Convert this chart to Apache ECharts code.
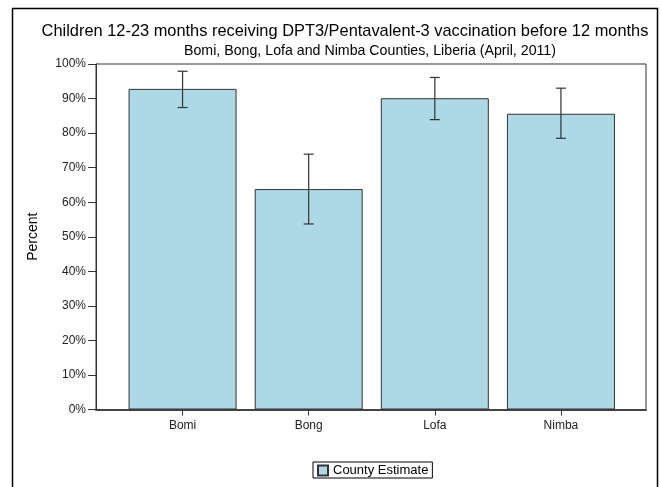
<!DOCTYPE html>
<html>
<head>
<meta charset="utf-8">
<script src="https://cdn.jsdelivr.net/npm/echarts@6/dist/echarts.min.js"></script>
<style>
  html, body { margin: 0; padding: 0; background: #fff; }
  #chart { width: 661px; height: 487px; }
</style>
</head>
<body>
<div id="chart"></div>
<script>
// County estimates with 95% confidence limits (percent)
const counties = ['Bomi', 'Bong', 'Lofa', 'Nimba'];
const estimates = [92.8, 63.8, 90.1, 85.6];
const lowerCI = [87.4, 53.7, 83.9, 78.5];
const upperCI = [97.9, 73.9, 96.1, 93.0];
const yTicks = [0, 10, 20, 30, 40, 50, 60, 70, 80, 90, 100];

const FONT = '"Liberation Sans", Arial, sans-serif';

const chart = echarts.init(document.getElementById('chart'), null, { renderer: 'canvas' });

const errorData = counties.map((c, i) => [i, lowerCI[i], upperCI[i]]);

chart.setOption({
  animation: false,
  backgroundColor: '#fff',
  textStyle: { fontFamily: FONT },
  title: [
    {
      text: 'Children 12-23 months receiving DPT3/Pentavalent-3 vaccination before 12 months',
      left: 340, top: 18, textAlign: 'center',
      textStyle: { fontFamily: FONT, fontSize: 16.4, fontWeight: 'normal', color: '#000' }
    },
    {
      text: 'Bomi, Bong, Lofa and Nimba Counties, Liberia (April, 2011)',
      left: 365, top: 39, textAlign: 'center',
      textStyle: { fontFamily: FONT, fontSize: 14.2, fontWeight: 'normal', color: '#000' }
    }
  ],
  graphic: [
    {
      type: 'rect', silent: true,
      shape: { x: 12.5, y: 8.5, width: 645, height: 490 },
      style: { fill: null, stroke: '#000', lineWidth: 1.5 }
    }
  ],
  legend: {
    data: ['County Estimate'],
    left: 313, top: 462,
    padding: [2, 4, 1, 4],
    borderColor: '#000', borderWidth: 1,
    itemWidth: 10, itemHeight: 10, itemGap: 4,
    icon: 'rect',
    textStyle: { fontFamily: FONT, fontSize: 13, color: '#000', padding: [0, 0, 0, 0] }
  },
  grid: [
    // bars / categories
    { left: 119.5, right: 37, top: 64, bottom: 77.5 },
    // framed value area
    { left: 96, right: 15, top: 64, bottom: 77.5, show: true, borderColor: '#333', borderWidth: 1, backgroundColor: 'transparent' }
  ],
  xAxis: [
    {
      type: 'category', gridIndex: 0, data: counties,
      axisLine: { show: false },
      axisTick: { show: true, alignWithLabel: true, length: 6, lineStyle: { color: '#333' } },
      axisLabel: { fontFamily: FONT, fontSize: 12, color: '#222', margin: 10 },
      splitLine: { show: false }
    },
    {
      type: 'value', gridIndex: 1, min: 0, max: 1,
      axisLine: { show: true, onZero: false, lineStyle: { color: '#444', width: 2 } },
      axisTick: { show: false }, axisLabel: { show: false }, splitLine: { show: false }
    }
  ],
  yAxis: [
    {
      type: 'value', gridIndex: 0, min: 0, max: 100,
      show: false
    },
    {
      type: 'value', gridIndex: 1, min: yTicks[0], max: yTicks[yTicks.length - 1], interval: 10,
      name: 'Percent', nameLocation: 'middle', nameGap: 56, nameRotate: 90,
      nameTextStyle: { fontFamily: FONT, fontSize: 14, color: '#000' },
      axisLine: { show: true, lineStyle: { color: '#333' } },
      axisTick: { show: true, length: 8, lineStyle: { color: '#333' } },
      axisLabel: { fontFamily: FONT, fontSize: 12, color: '#222', margin: 10, formatter: '{value}%' },
      splitLine: { show: false }
    }
  ],
  series: [
    {
      name: 'County Estimate', type: 'bar',
      xAxisIndex: 0, yAxisIndex: 0,
      data: estimates,
      barWidth: 108,
      itemStyle: { color: '#ADD8E6', borderColor: '#333', borderWidth: 1 }
    },
    {
      name: 'CI', type: 'custom',
      xAxisIndex: 0, yAxisIndex: 0,
      data: errorData,
      z: 5,
      renderItem: function (params, api) {
        const x = api.value(0);
        const lo = api.coord([x, api.value(1)]);
        const hi = api.coord([x, api.value(2)]);
        const half = 5;
        const st = { stroke: '#333', lineWidth: 1.2 };
        return {
          type: 'group',
          children: [
            { type: 'line', shape: { x1: hi[0], y1: hi[1], x2: lo[0], y2: lo[1] }, style: st },
            { type: 'line', shape: { x1: hi[0] - half, y1: hi[1], x2: hi[0] + half, y2: hi[1] }, style: st },
            { type: 'line', shape: { x1: lo[0] - half, y1: lo[1], x2: lo[0] + half, y2: lo[1] }, style: st }
          ]
        };
      }
    }
  ]
});
</script>
</body>
</html>
